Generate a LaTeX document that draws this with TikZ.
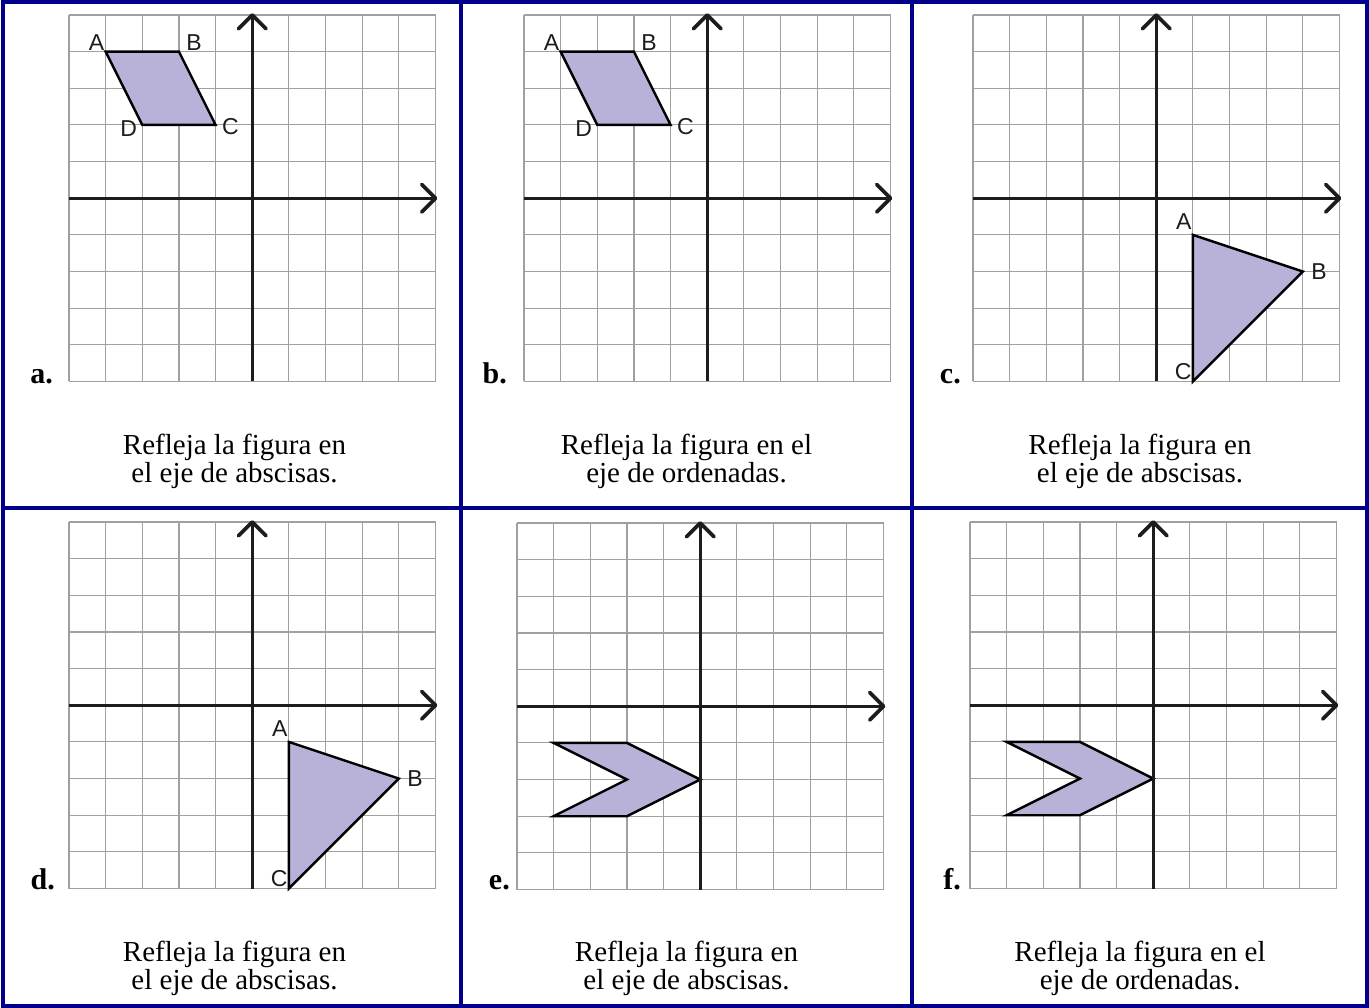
\documentclass[tikz,border=0pt]{standalone}
\usepackage{fontspec}
\setmainfont{Liberation Serif}
\newfontfamily\lsans{Liberation Sans}
\definecolor{navyb}{HTML}{00008B}
\definecolor{lav}{HTML}{B8B1D8}
\definecolor{gridc}{HTML}{A0A0A0}
\definecolor{axisc}{HTML}{1C1C1C}
\tikzset{
  gridline/.style={draw=gridc, line width=1.1pt},
  axisline/.style={draw=axisc, line width=3pt},
  arrowarm/.style={draw=axisc, line width=3.6pt, line cap=round, line join=round},
  figshape/.style={fill=lav, draw=black, line width=2.4pt, line join=miter},
  vlabel/.style={font=\lsans\fontsize{23}{23}\selectfont, inner sep=1.2pt, text=axisc},
  plabel/.style={font=\bfseries\fontsize{30}{30}\selectfont, anchor=base east, inner sep=0pt},
  capline/.style={font=\fontsize{29}{28}\selectfont, anchor=base, inner sep=0pt},
  divider/.style={draw=navyb, line width=4pt},
  panel/.style 2 args={shift={(#1+183.25,#2+183.25)}, x=36.65pt, y=36.65pt},
}
\newcommand\gridonly{%
  \foreach \k in {-5,...,5} {
    \draw[gridline] (\k,-5) -- (\k,5);
    \draw[gridline] (-5,\k) -- (5,\k);
  }}
\newcommand\axesof[1]{%
  \coordinate (#1xl) at (-5,0);
  \coordinate (#1xr) at (5,0);
  \coordinate (#1yb) at (0,-5);
  \coordinate (#1yt) at (0,5);
  \draw[axisline] (#1xl) -- (#1xr);
  \draw[axisline] (#1yb) -- (#1yt);
  \draw[arrowarm] ([shift={(-0.38,0.38)}]#1xr) -- (#1xr) -- ([shift={(-0.38,-0.38)}]#1xr);
  \draw[arrowarm] ([shift={(-0.38,-0.38)}]#1yt) -- (#1yt) -- ([shift={(0.38,-0.38)}]#1yt);
}
\newcommand\parallelo[1]{%
  \coordinate (#1A) at (-4,4);
  \coordinate (#1B) at (-2,4);
  \coordinate (#1C) at (-1,2);
  \coordinate (#1D) at (-3,2);
  \draw[figshape] (#1A) -- (#1B) -- (#1C) -- (#1D) -- cycle;
  \node[vlabel, anchor=south east] (#1lA) at (#1A) {A};
  \node[vlabel, anchor=south west, xshift=6pt] (#1lB) at (#1B) {B};
  \node[vlabel, anchor=west, xshift=5pt, yshift=-2pt] (#1lC) at (#1C) {C};
  \node[vlabel, anchor=east, xshift=-4pt, yshift=-4pt] (#1lD) at (#1D) {D};
}
\newcommand\triang[1]{%
  \coordinate (#1A) at (1,-1);
  \coordinate (#1B) at (4,-2);
  \coordinate (#1C) at (1,-5);
  \draw[figshape] (#1A) -- (#1B) -- (#1C) -- cycle;
  \node[vlabel, anchor=south east, yshift=4pt] (#1lA) at (#1A) {A};
  \node[vlabel, anchor=west, xshift=7pt] (#1lB) at (#1B) {B};
  \node[vlabel, anchor=south east, yshift=0pt] (#1lC) at (#1C) {C};
}
\newcommand\chevron[1]{%
  \coordinate (#1P) at (-4,-1);
  \coordinate (#1Q) at (-2,-1);
  \coordinate (#1R) at (0,-2);
  \coordinate (#1S) at (-2,-3);
  \coordinate (#1T) at (-4,-3);
  \coordinate (#1U) at (-2,-2);
  \draw[figshape] (#1P) -- (#1Q) -- (#1R) -- (#1S) -- (#1T) -- (#1U) -- cycle;
}
\begin{document}
\begin{tikzpicture}[x=1pt,y=-1pt]
  \useasboundingbox (0,0) rectangle (1369,1008);
  \fill[white] (0,0) rectangle (1369,1008);

  % panel a
  \begin{scope}[panel={69}{15}]
    \gridonly
    \parallelo{a}
    \axesof{a}
  \end{scope}
  % panel b
  \begin{scope}[panel={524}{15}]
    \gridonly
    \parallelo{b}
    \axesof{b}
  \end{scope}
  % panel c
  \begin{scope}[panel={973}{15}]
    \gridonly
    \triang{c}
    \axesof{c}
  \end{scope}
  % panel d
  \begin{scope}[panel={69}{522}]
    \gridonly
    \triang{d}
    \axesof{d}
  \end{scope}
  % panel e
  \begin{scope}[panel={517}{523}]
    \gridonly
    \chevron{e}
    \axesof{e}
  \end{scope}
  % panel f
  \begin{scope}[panel={970}{522}]
    \gridonly
    \chevron{f}
    \axesof{f}
  \end{scope}

  % panel letters
  \node[plabel] (la) at (53,384) {a.};
  \node[plabel] (lb) at (507,384) {b.};
  \node[plabel] (lc) at (961,384) {c.};
  \node[plabel] (ld) at (55,889) {d.};
  \node[plabel] (le) at (510,889) {e.};
  \node[plabel] (lf) at (961,889) {f.};

  % captions
  \node[capline] (ca1) at (234.5,454) {Refleja la figura en};
  \node[capline] (ca2) at (234.5,482) {el eje de abscisas.};
  \node[capline] (cb1) at (686.5,454) {Refleja la figura en el};
  \node[capline] (cb2) at (686.5,482) {eje de ordenadas.};
  \node[capline] (cc1) at (1140,454) {Refleja la figura en};
  \node[capline] (cc2) at (1140,482) {el eje de abscisas.};
  \node[capline] (cd1) at (234.5,961) {Refleja la figura en};
  \node[capline] (cd2) at (234.5,989) {el eje de abscisas.};
  \node[capline] (ce1) at (686.5,961) {Refleja la figura en};
  \node[capline] (ce2) at (686.5,989) {el eje de abscisas.};
  \node[capline] (cf1) at (1140,961) {Refleja la figura en el};
  \node[capline] (cf2) at (1140,989) {eje de ordenadas.};

  % frame and dividers
  \draw[divider] (2.5,2) rectangle (1367,1006);
  \draw[divider] (461,2) -- (461,1006);
  \draw[divider] (912,2) -- (912,1006);
  \draw[divider] (2.5,507.7) -- (1367,507.7);
\end{tikzpicture}
\end{document}
